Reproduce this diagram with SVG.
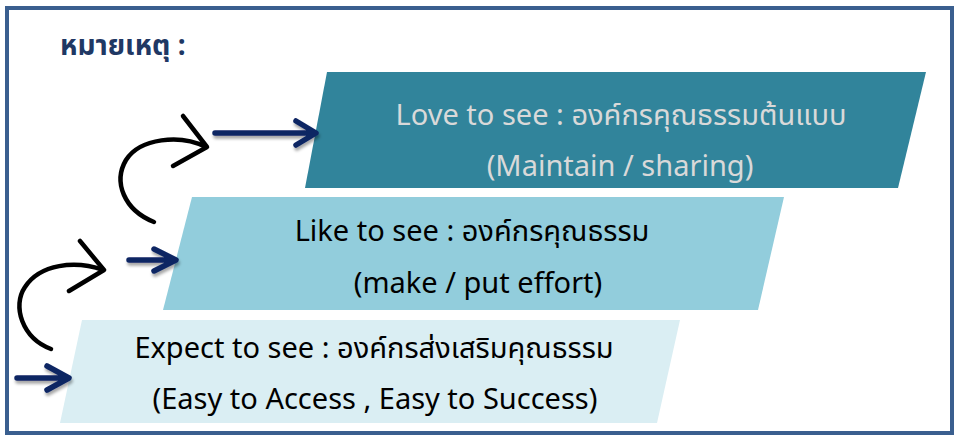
<svg xmlns="http://www.w3.org/2000/svg" width="956" height="438" viewBox="0 0 956 438">
<style>
.t{font-family:"Noto Sans","Noto Sans Thai","Leelawadee UI",Tahoma,sans-serif;font-size:29px;text-anchor:middle}
.nav{fill:none;stroke:#0E2564;stroke-width:5.5;stroke-linecap:round;stroke-linejoin:round}
.cur{fill:none;stroke:#000;stroke-width:4.5;stroke-linecap:round;stroke-linejoin:round}
</style>
<defs>
<filter id="sh" x="-20%" y="-50%" width="140%" height="220%">
<feDropShadow dx="1" dy="3" stdDeviation="1.5" flood-color="#000" flood-opacity="0.35"/>
</filter>
</defs>
<rect x="0" y="0" width="956" height="438" fill="#fff"/>
<rect x="7" y="8" width="945" height="425" fill="#fff" stroke="#3A5F8F" stroke-width="4"/>
<text x="60" y="55" style="font-family:'Noto Sans','Noto Sans Thai',Tahoma,sans-serif;font-size:28px;font-weight:bold;fill:#1F3864">หมายเหตุ :</text>
<g id="love">
<polygon points="327,72 926,72 898,188 305,188" fill="#31849B"/>
<text class="t" x="621" y="125" fill="#D9D9D9">Love to see : องค์กรคุณธรรมต้นแบบ</text>
<text class="t" x="620" y="176" fill="#D9D9D9">(Maintain / sharing)</text>
</g>
<g id="like">
<polygon points="192,197 784,197 758,310 163,310" fill="#92CDDC"/>
<text class="t" x="472" y="241" fill="#000">Like to see : องค์กรคุณธรรม</text>
<text class="t" x="478" y="293" fill="#000">(make / put effort)</text>
</g>
<g id="expect">
<polygon points="82,320 680,320 657,423 60,423" fill="#DAEEF3"/>
<text class="t" x="374" y="358" fill="#000">Expect to see : องค์กรส่งเสริมคุณธรรม</text>
<text class="t" x="375" y="409" fill="#000">(Easy to Access , Easy to Success)</text>
</g>
<g id="connectors">
<g filter="url(#sh)">
<path class="nav" d="M215,133 H315 M296,121 L316,133 L296,145"/>
<path class="nav" d="M129,260 H175 M154,249 L176,260 L154,271"/>
<path class="nav" d="M17,378 H68 M47,366 L69,378 L47,390"/>
</g>
<path class="cur" d="M154,222 C124,210 113,182 126,160 C140,138 180,134 206,147"/>
<path class="cur" d="M183,116 L207,147 L173,166"/>
<path class="cur" d="M51,349 C22,338 12,306 25,287 C40,264 75,260 103,270"/>
<path class="cur" d="M80,241 L104,270 L69,291"/>
</g>
</svg>
